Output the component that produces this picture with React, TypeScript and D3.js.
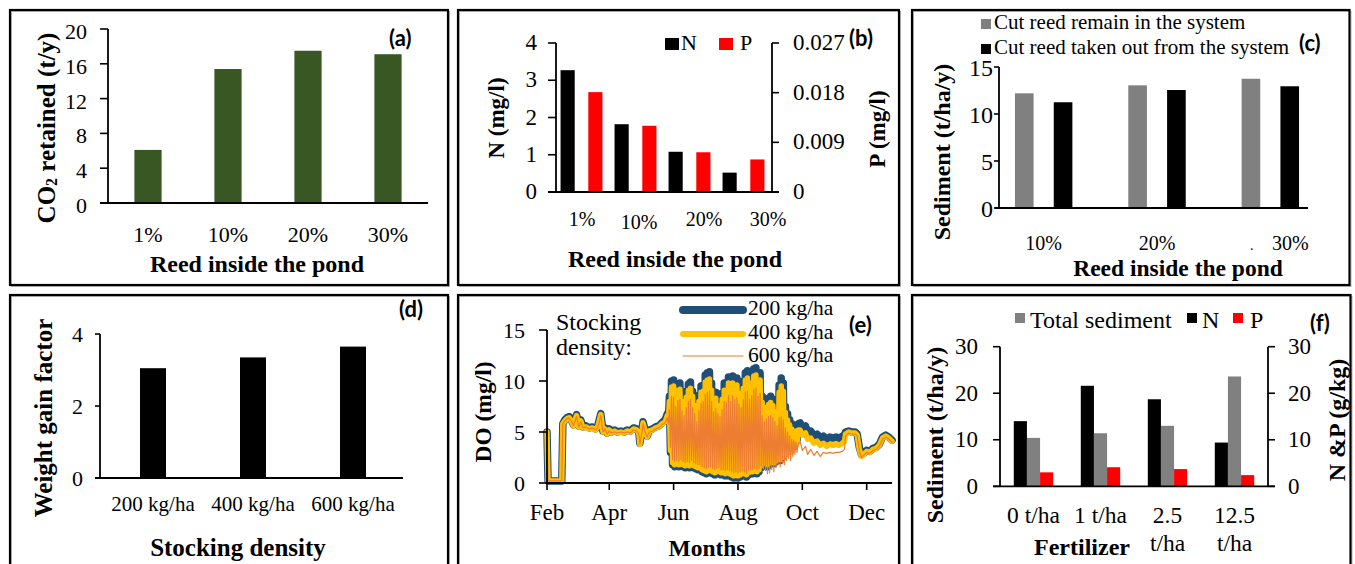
import React from 'react';
import * as d3 from 'd3';

// ---------------- data ----------------
const reedLevels = ['1%', '10%', '20%', '30%'];
const co2Retained = [6.1, 15.4, 17.5, 17.1];
const co2Ticks = [0, 4, 8, 12, 16, 20];

const nitrogenConc = [3.27, 1.82, 1.08, 0.52];
const phosphorusConc = [0.0181, 0.012, 0.0072, 0.0059];
const nConcTicks = [0, 1, 2, 3, 4];
const pConcTicks = [0, 0.009, 0.018, 0.027];
const pConcTickLabels = ['0', '0.009', '0.018', '0.027'];

const sedReedLevels = ['10%', '20%', '30%'];
const sedimentRemain = [12.2, 13.05, 13.75];
const sedimentTakenOut = [11.25, 12.55, 12.95];
const sedimentTicks = [0, 5, 10, 15];

const stockingDensities = ['200 kg/ha', '400 kg/ha', '600 kg/ha'];
const weightGainFactor = [3.05, 3.35, 3.65];
const weightGainTicks = [0, 2, 4];

const doTicks = [0, 5, 10, 15];
const doDaysSpring = [0, 1, 14, 15, 17, 19, 21, 23, 25, 28, 30, 32, 34, 37, 40, 43, 46, 48, 51, 53, 55, 57, 59, 61, 64, 67, 70, 73, 76, 79, 82, 85, 87, 88, 90, 91, 93, 95, 97, 100, 103, 106, 109, 112, 114];
const doDaysSummer = d3.range(115, 239);
const doDaysAutumn = [240, 242, 245, 247, 250, 253, 256, 259, 262, 265, 268, 271, 274, 277, 280, 282, 283, 286, 289, 292, 294, 296, 298, 300, 303, 306, 309, 312, 315, 318, 321, 324, 327];

const do200Spring = [5.0, 0.2, 0.2, 5.8, 6.2, 6.4, 6.5, 6.2, 5.7, 6.7, 5.6, 6.2, 5.5, 5.6, 5.4, 5.5, 5.3, 5.6, 6.8, 5.1, 5.4, 4.9, 5.3, 5.0, 5.2, 5.0, 5.1, 5.0, 5.2, 5.1, 5.4, 5.3, 5.0, 3.9, 5.2, 6.0, 5.2, 4.6, 5.2, 5.3, 5.5, 5.6, 5.9, 6.2, 6.8];
const do400Spring = [5.0, 0.2, 0.2, 5.8, 6.1, 6.3, 6.4, 6.1, 5.6, 6.6, 5.5, 6.1, 5.4, 5.5, 5.3, 5.4, 5.2, 5.5, 6.7, 5.0, 5.3, 4.8, 5.2, 4.9, 5.1, 4.9, 5.0, 4.9, 5.1, 5.0, 5.3, 5.2, 4.9, 3.8, 5.1, 5.9, 5.1, 4.5, 5.1, 5.2, 5.4, 5.5, 5.8, 6.0, 6.6];
const do600Spring = [5.0, 0.2, 0.2, 5.8, 6.1, 6.3, 6.4, 6.1, 5.6, 6.5, 5.5, 6.0, 5.4, 5.5, 5.3, 5.4, 5.2, 5.4, 6.6, 5.0, 5.3, 4.8, 5.1, 4.9, 5.0, 4.9, 5.0, 4.9, 5.0, 4.9, 5.2, 5.1, 4.8, 3.8, 5.0, 5.8, 5.0, 4.5, 5.0, 5.1, 5.3, 5.4, 5.7, 5.9, 6.4];

const do200Summer = [
  6.0, 8.5, 3.0, 10.0, 1.8, 10.1, 1.6, 8.9, 1.7, 9.7, 1.6, 9.8, 1.8, 8.6, 1.6, 8.0, 1.5, 9.0, 1.6, 9.7,
  1.5, 9.9, 1.7, 9.0, 1.5, 8.2, 1.4, 7.2, 1.3, 8.6, 1.3, 9.5, 1.1, 9.6, 1.0, 10.6, 0.9, 10.8, 1.0, 10.9,
  1.1, 9.8, 0.9, 8.5, 0.8, 8.9, 0.9, 8.2, 1.0, 7.9, 0.8, 8.8, 0.8, 9.8, 0.7, 9.4, 0.8, 10.4, 0.7, 9.6,
  0.6, 10.5, 0.5, 10.0, 0.6, 10.3, 0.5, 9.4, 0.6, 9.0, 0.8, 10.0, 0.7, 10.8, 0.6, 11.0, 0.8, 10.0, 0.9, 10.5,
  0.9, 11.2, 1.0, 11.3, 0.9, 10.3, 1.1, 10.8, 1.5, 8.5, 1.8, 7.5, 2.0, 8.0, 1.6, 8.3, 1.8, 8.5, 2.2, 8.2,
  1.9, 7.6, 2.1, 7.0, 2.4, 9.6, 2.2, 10.3, 2.5, 9.8, 2.8, 7.5, 3.0, 6.8, 3.3, 6.2, 3.2, 5.8, 3.6, 5.5,
  3.8, 5.6, 4.2, 5.8,
];
const do400Summer = [
  6.0, 8.0, 3.2, 9.4, 2.0, 9.5, 1.8, 8.4, 1.9, 9.1, 1.8, 9.2, 2.0, 8.0, 1.8, 7.4, 1.7, 8.4, 1.8, 9.1,
  1.7, 9.3, 1.9, 8.5, 1.7, 7.6, 1.6, 6.7, 1.5, 8.0, 1.5, 8.9, 1.3, 9.0, 1.2, 9.9, 1.1, 10.1, 1.2, 10.2,
  1.3, 9.1, 1.1, 7.9, 1.0, 8.3, 1.1, 7.6, 1.2, 7.3, 1.0, 8.2, 1.0, 9.1, 0.9, 8.8, 1.0, 9.8, 0.9, 9.0,
  0.8, 9.8, 0.7, 9.3, 0.8, 9.6, 0.7, 8.8, 0.8, 8.4, 1.0, 9.3, 0.9, 10.1, 0.8, 10.3, 1.0, 9.3, 1.1, 9.8,
  1.1, 10.5, 1.2, 10.6, 1.1, 9.7, 1.3, 10.1, 1.7, 7.9, 1.9, 7.0, 2.1, 7.4, 1.8, 7.7, 2.0, 7.9, 2.3, 7.6,
  2.0, 7.0, 2.2, 6.5, 2.4, 8.9, 2.3, 9.5, 2.5, 9.0, 2.7, 6.9, 2.9, 6.2, 3.1, 5.7, 3.0, 5.3, 3.3, 5.0,
  3.5, 5.1, 3.8, 5.2,
];
const do600Summer = [
  5.8, 7.2, 3.5, 8.5, 2.3, 8.4, 2.1, 7.5, 2.2, 8.1, 2.1, 8.2, 2.3, 7.1, 2.1, 6.6, 2.0, 7.4, 2.1, 8.0,
  2.0, 8.2, 2.2, 7.4, 2.0, 6.8, 1.9, 6.0, 1.8, 7.1, 1.8, 7.8, 1.6, 8.0, 1.5, 8.7, 1.4, 8.9, 1.5, 9.0,
  1.6, 8.0, 1.4, 7.0, 1.3, 7.3, 1.4, 6.8, 1.5, 6.5, 1.3, 7.2, 1.3, 8.0, 1.2, 7.9, 1.3, 8.6, 1.2, 8.0,
  1.1, 8.6, 1.0, 8.2, 1.1, 8.4, 1.0, 7.7, 1.1, 7.4, 1.2, 8.2, 1.1, 8.9, 1.0, 9.0, 1.2, 8.2, 1.3, 8.6,
  1.3, 9.2, 1.4, 9.3, 1.3, 8.5, 1.4, 8.8, 1.6, 6.6, 1.4, 6.0, 1.2, 6.3, 0.9, 6.5, 1.0, 6.6, 1.3, 6.4,
  1.1, 6.0, 1.5, 5.6, 1.8, 6.4, 1.6, 6.5, 2.0, 6.2, 1.8, 5.4, 2.2, 5.0, 2.4, 4.6, 2.2, 4.3, 2.6, 4.2,
  2.8, 4.0, 3.0, 3.9,
];

const do200Autumn = [5.9, 5.4, 5.6, 5.0, 5.1, 4.6, 4.8, 4.4, 4.6, 4.3, 4.5, 4.4, 4.5, 4.4, 4.6, 4.7, 5.0, 5.1, 5.0, 5.0, 4.8, 3.5, 2.8, 2.9, 3.2, 3.1, 3.4, 3.5, 3.8, 4.5, 4.7, 4.5, 4.2];
const do400Autumn = [5.2, 4.7, 4.9, 4.3, 4.4, 3.9, 4.1, 3.7, 3.9, 3.6, 3.8, 3.7, 3.8, 3.7, 3.9, 4.1, 4.8, 5.0, 4.9, 4.9, 4.7, 3.3, 2.6, 2.8, 3.1, 3.0, 3.3, 3.4, 3.7, 4.4, 4.6, 4.4, 4.1];
const do600Autumn = [4.0, 3.2, 3.6, 2.8, 3.3, 2.7, 3.1, 2.6, 3.0, 2.9, 3.0, 2.9, 3.0, 3.0, 3.1, 3.3, 4.6, 4.9, 4.8, 4.8, 4.6, 3.2, 2.5, 2.7, 3.0, 2.9, 3.2, 3.3, 3.6, 4.3, 4.5, 4.3, 4.0];

const fertilizerLabels = [['0 t/ha'], ['1 t/ha'], ['2.5', 't/ha'], ['12.5', 't/ha']];
const totalSediment = [10.4, 11.4, 13.0, 23.6];
const sedimentN = [14.0, 21.6, 18.7, 9.4];
const sedimentP = [3.0, 4.1, 3.7, 2.4];
const fertTicks = [0, 10, 20, 30];

// ---------------- style ----------------
const SERIF = "'Liberation Serif', 'Times New Roman', Times, serif";
const SANS = "Lato, 'Open Sans', 'Liberation Sans', sans-serif";
const GREEN = '#385723';
const GRAY = '#808080';
const RED = '#ff0000';

function YAxis({ scale, ticks, x, tick, labelX, anchor, fs, dy, labels }: any) {
  const dom = scale.domain();
  return (
    <g>
      <line x1={x} x2={x} y1={scale(dom[0])} y2={scale(dom[1])} stroke="#000" strokeWidth={1.8} />
      {ticks.map((t: number, i: number) => (
        <g key={i}>
          <line x1={x} x2={x + tick} y1={scale(t)} y2={scale(t)} stroke="#000" strokeWidth={1.6} />
          <text x={labelX} y={scale(t) + dy} textAnchor={anchor} fontSize={fs} fontFamily={SERIF}>
            {labels ? labels[i] : String(t)}
          </text>
        </g>
      ))}
    </g>
  );
}

function VTitle({ x, y, fs, children }: any) {
  return (
    <text
      transform={`translate(${x},${y}) rotate(-90)`}
      textAnchor="middle"
      dominantBaseline="central"
      fontSize={fs}
      fontWeight="bold"
      fontFamily={SERIF}
    >
      {children}
    </text>
  );
}

function HLine({ x1, x2, y }: any) {
  return <line x1={x1} x2={x2} y1={y} y2={y} stroke="#000" strokeWidth={1.8} />;
}

function PanelTag({ x, y, t }: any) {
  return (
    <text x={x} y={y} fontSize={22} fontWeight="bold" fontFamily={SANS}>
      {t}
    </text>
  );
}

function PanelA() {
  const x = d3.scaleBand().domain(reedLevels).range([108, 428]).paddingInner(0.66).paddingOuter(0.33);
  const y = d3.scaleLinear().domain([0, 20]).range([203, 29]);
  return (
    <g>
      {reedLevels.map((c, i) => (
        <rect key={c} x={x(c)} y={y(co2Retained[i])} width={x.bandwidth()} height={y(0) - y(co2Retained[i])} fill={GREEN} />
      ))}
      <YAxis scale={y} ticks={co2Ticks} x={108} tick={-8} labelX={87} anchor="end" fs={22} dy={10} />
      <HLine x1={100} x2={428} y={y(0)} />
      {reedLevels.map((c) => (
        <text key={c} x={(x(c) as number) + x.bandwidth() / 2} y={242} textAnchor="middle" fontSize={22} fontFamily={SERIF}>
          {c}
        </text>
      ))}
      <text x={257} y={272} textAnchor="middle" fontSize={24} fontWeight="bold" fontFamily={SERIF}>
        Reed inside the pond
      </text>
      <VTitle x={46} y={128} fs={25}>
        CO<tspan fontSize={16} dy={5}>2</tspan>
        <tspan dy={-5}> retained (t/y)</tspan>
      </VTitle>
      <PanelTag x={389} y={46} t="(a)" />
    </g>
  );
}

function PanelB() {
  const x = d3.scaleBand().domain(reedLevels).range([556, 772]);
  const inner = d3.scaleBand().domain(['N', 'P']).range([0, 51]).paddingInner(0.49).paddingOuter(0.164);
  const yN = d3.scaleLinear().domain([0, 4]).range([192, 43]);
  const yP = d3.scaleLinear().domain([0, 0.027]).range([192, 43]);
  const labelShift = [-1, 2, 13, 23];
  const labelY = [226, 229, 226, 226];
  return (
    <g>
      {reedLevels.map((c, i) => (
        <g key={c}>
          <rect x={(x(c) as number) + (inner('N') as number)} y={yN(nitrogenConc[i])} width={inner.bandwidth()} height={yN(0) - yN(nitrogenConc[i])} fill="#000" />
          <rect x={(x(c) as number) + (inner('P') as number)} y={yP(phosphorusConc[i])} width={inner.bandwidth()} height={yP(0) - yP(phosphorusConc[i])} fill={RED} />
        </g>
      ))}
      <YAxis scale={yN} ticks={nConcTicks} x={556} tick={-8} labelX={537} anchor="end" fs={23} dy={7} />
      <YAxis scale={yP} ticks={pConcTicks} labels={pConcTickLabels} x={772} tick={7} labelX={793} anchor="start" fs={23} dy={7} />
      <HLine x1={548} x2={779} y={192} />
      {reedLevels.map((c, i) => (
        <text key={c} x={(x(c) as number) + x.bandwidth() / 2 + labelShift[i]} y={labelY[i]} textAnchor="middle" fontSize={20} fontFamily={SERIF}>
          {c}
        </text>
      ))}
      <text x={675} y={267} textAnchor="middle" fontSize={24} fontWeight="bold" fontFamily={SERIF}>
        Reed inside the pond
      </text>
      <VTitle x={496} y={118} fs={23}>N (mg/l)</VTitle>
      <VTitle x={877} y={129} fs={23}>P (mg/l)</VTitle>
      <rect x={665} y={38} width={14} height={12} fill="#000" />
      <text x={681} y={50} fontSize={22} fontFamily={SERIF}>N</text>
      <rect x={719} y={38} width={14} height={12} fill={RED} />
      <text x={740} y={50} fontSize={22} fontFamily={SERIF}>P</text>
      <PanelTag x={849} y={46} t="(b)" />
    </g>
  );
}

function PanelC() {
  const x = d3.scaleBand().domain(sedReedLevels).range([987, 1327]);
  const inner = d3.scaleBand().domain(['remain', 'out']).range([0, x.bandwidth()]).paddingInner(0.52).paddingOuter(0.72);
  const y = d3.scaleLinear().domain([0, 15]).range([208, 67]);
  const labelShift = [0, 0, 20];
  return (
    <g>
      {sedReedLevels.map((c, i) => (
        <g key={c}>
          <rect x={(x(c) as number) + (inner('remain') as number)} y={y(sedimentRemain[i])} width={inner.bandwidth()} height={y(0) - y(sedimentRemain[i])} fill={GRAY} />
          <rect x={(x(c) as number) + (inner('out') as number)} y={y(sedimentTakenOut[i])} width={inner.bandwidth()} height={y(0) - y(sedimentTakenOut[i])} fill="#000" />
        </g>
      ))}
      <YAxis scale={y} ticks={sedimentTicks} x={999} tick={-5} labelX={993} anchor="end" fs={24} dy={9} />
      <HLine x1={995} x2={1308} y={208} />
      {sedReedLevels.map((c, i) => (
        <text key={c} x={(x(c) as number) + x.bandwidth() / 2 + labelShift[i]} y={250} textAnchor="middle" fontSize={20} fontFamily={SERIF}>
          {c}
        </text>
      ))}
      <text x={1250} y={250} fontSize={14} fontFamily={SERIF}>.</text>
      <text x={1178} y={276} textAnchor="middle" fontSize={23.5} fontWeight="bold" fontFamily={SERIF}>
        Reed inside the pond
      </text>
      <VTitle x={942} y={152} fs={24}>Sediment (t/ha/y)</VTitle>
      <rect x={981} y={19} width={10} height={10} fill={GRAY} />
      <text x={994} y={29} fontSize={21} fontFamily={SERIF}>Cut reed remain in the system</text>
      <rect x={981} y={44} width={10} height={10} fill="#000" />
      <text x={994} y={54} fontSize={21} fontFamily={SERIF}>Cut reed taken out from the system</text>
      <PanelTag x={1299} y={51} t="(c)" />
    </g>
  );
}

function PanelD() {
  const x = d3.scaleBand().domain(stockingDensities).range([103, 403]).paddingInner(0.74).paddingOuter(0.37);
  const y = d3.scaleLinear().domain([0, 4]).range([478, 334]);
  return (
    <g>
      {stockingDensities.map((c, i) => (
        <rect key={c} x={x(c)} y={y(weightGainFactor[i])} width={x.bandwidth()} height={y(0) - y(weightGainFactor[i])} fill="#000" />
      ))}
      <YAxis scale={y} ticks={weightGainTicks} x={100} tick={-5} labelX={83} anchor="end" fs={22} dy={8} />
      <HLine x1={95} x2={403} y={478} />
      {stockingDensities.map((c) => (
        <text key={c} x={(x(c) as number) + x.bandwidth() / 2} y={511} textAnchor="middle" fontSize={21} fontFamily={SERIF}>
          {c}
        </text>
      ))}
      <text x={238} y={556} textAnchor="middle" fontSize={25} fontWeight="bold" fontFamily={SERIF}>
        Stocking density
      </text>
      <VTitle x={43} y={418} fs={25}>Weight gain factor</VTitle>
      <PanelTag x={399} y={317} t="(d)" />
    </g>
  );
}

function PanelE() {
  const start = new Date(2019, 1, 1);
  const end = new Date(2019, 11, 25);
  const x = d3.scaleTime().domain([start, end]).range([547, 892]);
  const y = d3.scaleLinear().domain([0, 15]).range([483, 330]);
  const days = [...doDaysSpring, ...doDaysSummer, ...doDaysAutumn];
  const dates = days.map((d) => d3.timeDay.offset(start, d));
  const series = [
    { name: '200 kg/ha', values: [...do200Spring, ...do200Summer, ...do200Autumn], color: '#1f4e79', width: 7.5 },
    { name: '400 kg/ha', values: [...do400Spring, ...do400Summer, ...do400Autumn], color: '#ffc000', width: 5.5 },
    { name: '600 kg/ha', values: [...do600Spring, ...do600Summer, ...do600Autumn], color: '#ed7d31', width: 1.2 },
  ];
  const line = d3
    .line<number>()
    .x((_, i) => x(dates[i]))
    .y((v) => y(v));
  const monthTicks = d3.timeMonth.range(start, end, 2);
  const fmt = d3.timeFormat('%b');
  const legendY = [310, 334, 356];
  const legendTextY = [315, 339, 362];
  return (
    <g>
      {series.map((s) => (
        <path key={s.name} d={line(s.values) || ''} fill="none" stroke={s.color} strokeWidth={s.width} strokeLinejoin="round" strokeLinecap="round" />
      ))}
      <YAxis scale={y} ticks={doTicks} x={547} tick={-8} labelX={525} anchor="end" fs={22} dy={7.5} />
      <HLine x1={547} x2={892} y={483} />
      {monthTicks.map((m, i) => (
        <g key={i}>
          <line x1={x(m)} x2={x(m)} y1={483} y2={490} stroke="#000" strokeWidth={1.6} />
          <text x={x(m)} y={520} textAnchor="middle" fontSize={23} fontFamily={SERIF}>
            {fmt(m)}
          </text>
        </g>
      ))}
      <text x={707} y={556} textAnchor="middle" fontSize={23.5} fontWeight="bold" fontFamily={SERIF}>
        Months
      </text>
      <VTitle x={483} y={412} fs={23.5}>DO (mg/l)</VTitle>
      <text x={556} y={330} fontSize={24} fontFamily={SERIF}>Stocking</text>
      <text x={556} y={355} fontSize={24} fontFamily={SERIF}>density:</text>
      {series.map((s, i) => (
        <g key={s.name}>
          <line x1={683} x2={743} y1={legendY[i]} y2={legendY[i]} stroke={s.color} strokeWidth={s.width === 1.2 ? 1.2 : s.width + 0.5} strokeLinecap="round" />
          <text x={748} y={legendTextY[i]} fontSize={21.5} fontFamily={SERIF}>
            {s.name}
          </text>
        </g>
      ))}
      <PanelTag x={849} y={333} t="(e)" />
    </g>
  );
}

function PanelF() {
  const keys = fertilizerLabels.map((l) => l.join(' '));
  const x = d3.scaleBand().domain(keys).range([1000, 1268]);
  const inner = d3.scaleBand().domain(['N', 'S', 'P']).range([0, x.bandwidth()]).paddingInner(0).paddingOuter(1.05);
  const yL = d3.scaleLinear().domain([0, 30]).range([486.3, 346.7]);
  const yR = d3.scaleLinear().domain([0, 30]).range([486.3, 346.7]);
  return (
    <g>
      {keys.map((k, i) => (
        <g key={k}>
          <rect x={(x(k) as number) + (inner('N') as number)} y={yR(sedimentN[i])} width={inner.bandwidth()} height={yR(0) - yR(sedimentN[i])} fill="#000" />
          <rect x={(x(k) as number) + (inner('S') as number)} y={yL(totalSediment[i])} width={inner.bandwidth()} height={yL(0) - yL(totalSediment[i])} fill={GRAY} />
          <rect x={(x(k) as number) + (inner('P') as number)} y={yR(sedimentP[i])} width={inner.bandwidth()} height={yR(0) - yR(sedimentP[i])} fill={RED} />
        </g>
      ))}
      <YAxis scale={yL} ticks={fertTicks} x={1000} tick={-7} labelX={978} anchor="end" fs={23} dy={7.5} />
      <YAxis scale={yR} ticks={fertTicks} x={1268} tick={7} labelX={1288} anchor="start" fs={23} dy={7.5} />
      <HLine x1={993} x2={1275} y={486.3} />
      {keys.map((k, i) => (
        <text key={k} x={(x(k) as number) + x.bandwidth() / 2} y={523} textAnchor="middle" fontSize={23.5} fontFamily={SERIF}>
          {fertilizerLabels[i].map((ln, j) => (
            <tspan key={j} x={(x(k) as number) + x.bandwidth() / 2} dy={j === 0 ? 0 : 28}>
              {ln}
            </tspan>
          ))}
        </text>
      ))}
      <text x={1082} y={555} textAnchor="middle" fontSize={24} fontWeight="bold" fontFamily={SERIF}>
        Fertilizer
      </text>
      <VTitle x={935} y={435} fs={24}>Sediment (t/ha/y)</VTitle>
      <VTitle x={1337} y={420} fs={24}>N &amp;P (g/kg)</VTitle>
      <rect x={1015} y={313} width={10} height={10} fill={GRAY} />
      <text x={1030} y={328} fontSize={24} fontFamily={SERIF}>Total sediment</text>
      <rect x={1187} y={313} width={10} height={10} fill="#000" />
      <text x={1202} y={328} fontSize={24} fontFamily={SERIF}>N</text>
      <rect x={1233} y={313} width={10} height={10} fill={RED} />
      <text x={1250} y={328} fontSize={24} fontFamily={SERIF}>P</text>
      <PanelTag x={1310} y={331} t="(f)" />
    </g>
  );
}

const frames = [
  { x: 10, y: 10, w: 438, h: 275 },
  { x: 458, y: 10, w: 441, h: 275 },
  { x: 912, y: 10, w: 437.5, h: 275 },
  { x: 10, y: 295, w: 438, h: 285 },
  { x: 458, y: 295, w: 441, h: 285 },
  { x: 912, y: 295, w: 438.5, h: 285 },
];

export default function App() {
  return (
    <svg
      width={1355}
      height={564}
      viewBox="0 0 1355 564"
      style={{ position: 'absolute', left: 0, top: 0, display: 'block' }}
      fontFamily={SERIF}
    >
      <rect width={1355} height={564} fill="#fff" />
      {frames.map((f, i) => (
        <g key={i}>
          <rect x={f.x + 1.5} y={f.y + 1.5} width={f.w} height={f.h} fill="none" stroke="#b5b5b5" strokeWidth={1} />
          <rect x={f.x} y={f.y} width={f.w} height={f.h} fill="none" stroke="#000" strokeWidth={2.2} />
        </g>
      ))}
      <PanelA />
      <PanelB />
      <PanelC />
      <PanelD />
      <PanelE />
      <PanelF />
    </svg>
  );
}
